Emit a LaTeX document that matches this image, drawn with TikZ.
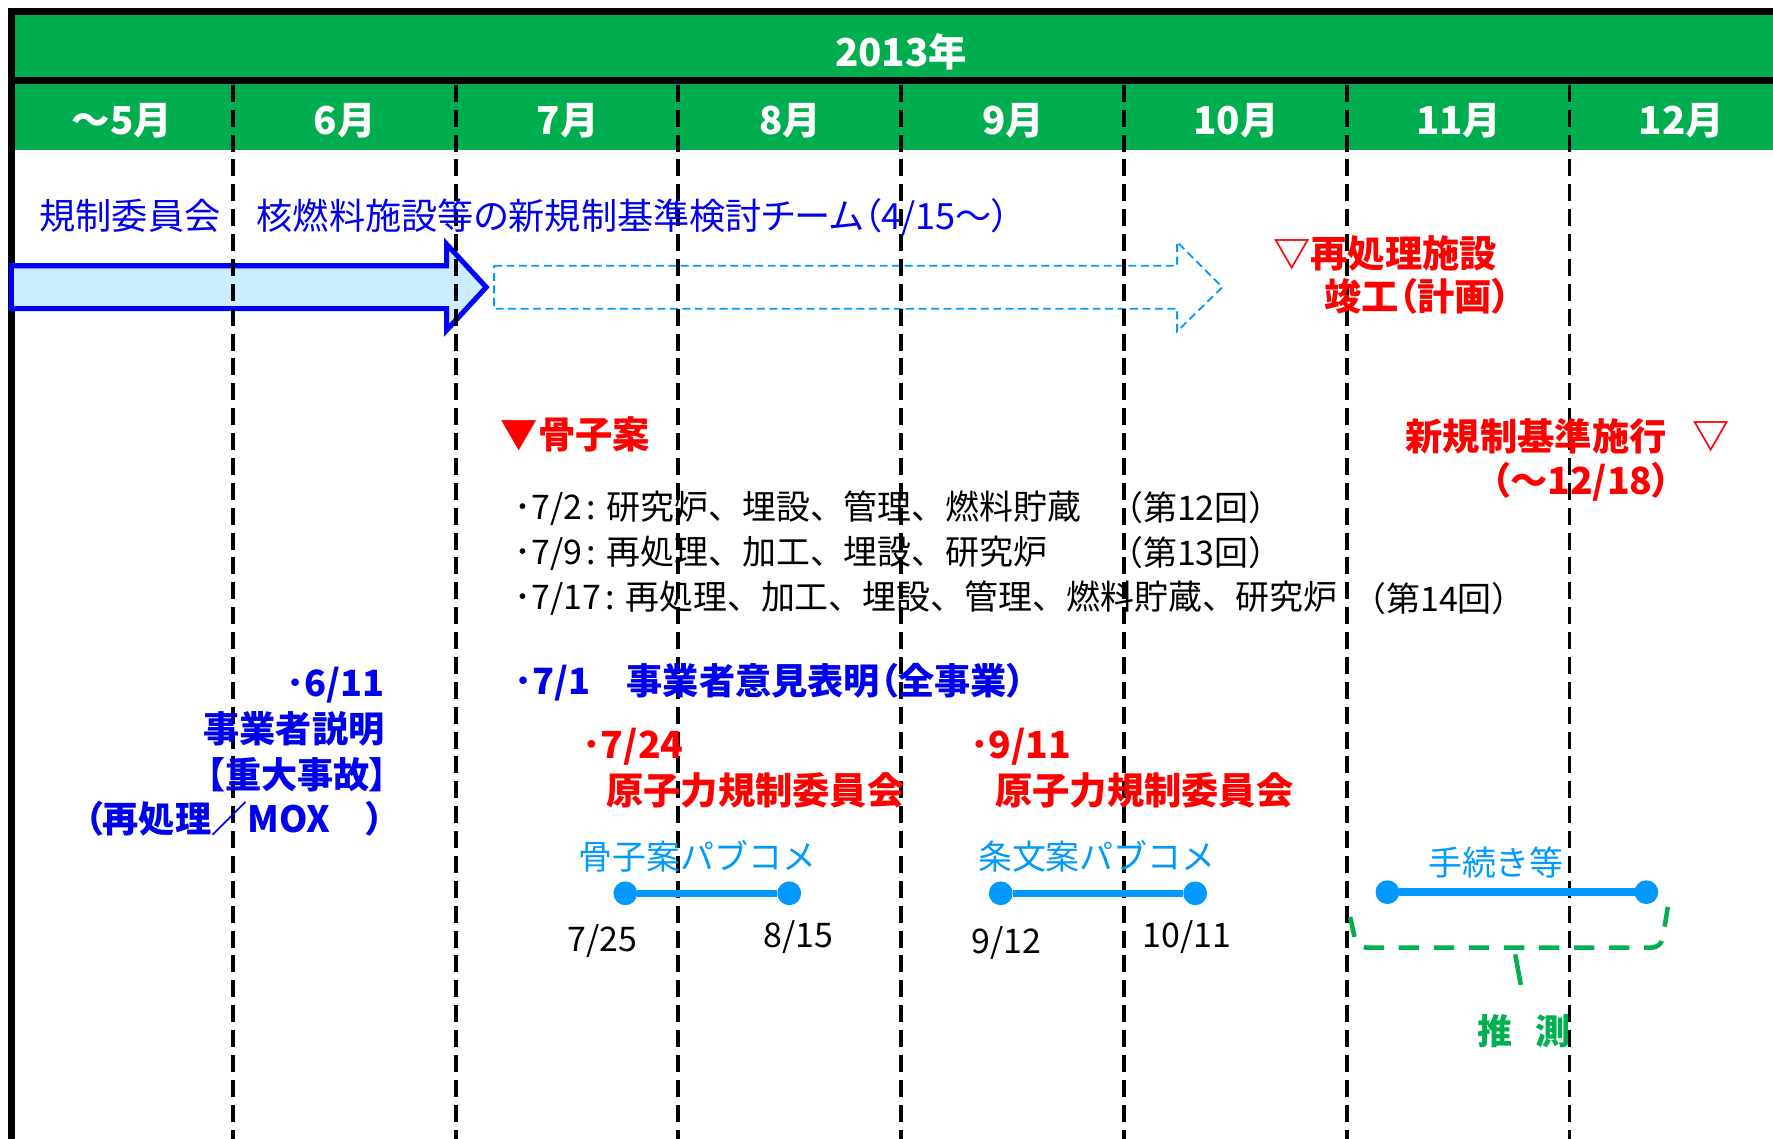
\documentclass[tikz,border=0pt]{standalone}
\usepackage{fontspec}
\setmainfont{Noto Sans CJK JP}
\newcommand{\paltf}{\addfontfeatures{RawFeature=+palt}}
\definecolor{hdrgreen}{HTML}{00AE50}
\definecolor{tblue}{HTML}{0000F0}
\definecolor{arrblue}{HTML}{0000FF}
\definecolor{arrfill}{HTML}{CCECFF}
\definecolor{lblue}{HTML}{0099FF}
\definecolor{tred}{HTML}{FF0000}
\definecolor{bgreen}{HTML}{00B050}
\begin{document}
\begin{tikzpicture}[x=1pt,y=-1pt,
  every node/.style={inner sep=0pt,outer sep=0pt},
  hdr/.style={text=white,font=\fontsize{34}{38}\selectfont\bfseries},
  divider/.style={draw=black,line width=3.5pt,dash pattern=on 15pt off 7pt},
  bluerow/.style={text=tblue,font=\fontsize{32}{38}\selectfont},
  redb/.style={text=tred,font=\fontsize{33}{40}\selectfont\bfseries},
  blk/.style={text=black,font=\fontsize{30}{36}\selectfont},
  blueb/.style={text=tblue,font=\fontsize{32}{38}\selectfont\bfseries},
  lbt/.style={text=lblue,font=\fontsize{30}{36}\selectfont},
  greenb/.style={text=bgreen,font=\fontsize{31}{36}\selectfont\bfseries},
  dot/.style={circle,fill=lblue,minimum size=21pt},
  seg/.style={draw=lblue,line width=6.5pt},
  bracket/.style={draw=bgreen,line width=4pt,dash pattern=on 18pt off 13pt,rounded corners=8pt}
]
\useasboundingbox (0,0) rectangle (1568,1007);
\fill[white] (0,0) rectangle (1568,1007);
% header bands
\fill[hdrgreen] (10,13) rectangle (1568,69);
\fill[hdrgreen] (10,74) rectangle (1568,133);
\fill[black] (7,7) rectangle (1568,13);
\fill[black] (10,68.5) rectangle (1568,74.5);
\fill[black] (7,7) rectangle (13,1007);
% arrows
\draw[draw=arrblue,fill=arrfill,line width=4.5pt,line join=miter]
  (10,235) -- (395,235) -- (395,216) -- (430,254) -- (395,292) -- (395,273) -- (10,273) -- cycle;
\draw[draw=lblue,line width=1.6pt,dash pattern=on 7pt off 4pt]
  (437,235) -- (1041,235) -- (1041,214) -- (1081,254) -- (1041,293) -- (1041,273) -- (437,273) -- cycle;
% month dividers
\foreach \x in {206,403,600,797,994,1191,1388}
  \draw[divider] (\x,75) -- (\x,1007);
% header texts
\node[hdr] (year) at (797,46) {2013年};
\foreach \lab [count=\i from 0] in {〜5月,6月,7月,8月,9月,10月,11月,12月}
  \node[hdr] (m\i) at ({108+197*\i},107) {\lab};
% blue row
\node[bluerow,anchor=west] (team) at (35,192) {\paltf 規制委員会　核燃料施設等の新規制基準検討チーム（4/15〜）};
% red plant
\node[redb,anchor=west] (plant1) at (1126,224) {▽再処理施設};
\node[redb,anchor=west] (plant2) at (1171,262) {\paltf 竣工（計画）};
% kossian
\node[redb,anchor=west] (koss) at (443,384) {▼骨子案};
\node[redb,anchor=west] (enf1) at (1243,386) {新規制基準施行};
\node[redb,anchor=west] (enf2) at (1497,386) {▽};
\node[redb,anchor=east] (enf3) at (1478,426) {\paltf （〜12/18）};
% meetings
\node[blk,anchor=west] (l1) at (455,449) {･7/2\hspace{4pt}:\hspace{9pt}研究炉、埋設、管理、燃料貯蔵};
\node[blk,anchor=west] (l1b) at (981,449) {（第12回）};
\node[blk,anchor=west] (l2) at (455,489) {･7/9\hspace{4pt}:\hspace{9pt}再処理、加工、埋設、研究炉};
\node[blk,anchor=west] (l2b) at (981,489) {（第13回）};
\node[blk,anchor=west] (l3) at (455,529) {･7/17\hspace{4pt}:\hspace{9pt}再処理、加工、埋設、管理、燃料貯蔵、研究炉};
\node[blk,anchor=west] (l3b) at (1196,529) {（第14回）};
% 7/1
\node[blueb,anchor=west] (op) at (455,603) {\paltf ･7/1　事業者意見表明（全事業）};
% 6/11 block
\node[blueb,anchor=east] (b1) at (340,606) {･6/11};
\node[blueb,anchor=east] (b2) at (340,645) {事業者説明};
\node[blueb,anchor=east] (b3) at (343,685) {\paltf 【重大事故】};
\node[blueb,anchor=east] (b4) at (340,724) {\paltf （再処理／MOX　）};
% NRA meetings
\node[redb,anchor=west] (r1a) at (515,660) {･7/24};
\node[redb,anchor=west] (r1b) at (536,699) {原子力規制委員会};
\node[redb,anchor=west] (r2a) at (858,660) {･9/11};
\node[redb,anchor=west] (r2b) at (880,699) {原子力規制委員会};
% public comments
\node[lbt,anchor=west] (pc1) at (512,757) {骨子案パブコメ};
\node[lbt,anchor=west] (pc2) at (865,757) {条文案パブコメ};
\node[lbt,anchor=west] (pc3) at (1263,763) {手続き等};
\node[dot] (d1) at (553,790) {};
\node[dot] (d2) at (698,790) {};
\node[dot] (d3) at (885,790) {};
\node[dot] (d4) at (1057,790) {};
\node[dot] (d5) at (1227,789) {};
\node[dot] (d6) at (1456,789) {};
\draw[seg] (d1) -- (d2);
\draw[seg] (d3) -- (d4);
\draw[seg] (d5) -- (d6);
\node[blk] (t1) at (533,832) {7/25};
\node[blk] (t2) at (706,829) {8/15};
\node[blk] (t3) at (890,834) {9/12};
\node[blk] (t4) at (1050,829) {10/11};
% estimate bracket
\draw[bracket] (1194,811) -- (1200,838) -- (1469,838) -- (1475,802);
\draw[bracket,dash pattern=on 30pt off 2pt] (1340,844) -- (1345,871);
\node[greenb] (est) at (1348,912) {推\hspace{20pt}測};
\end{tikzpicture}
\end{document}
